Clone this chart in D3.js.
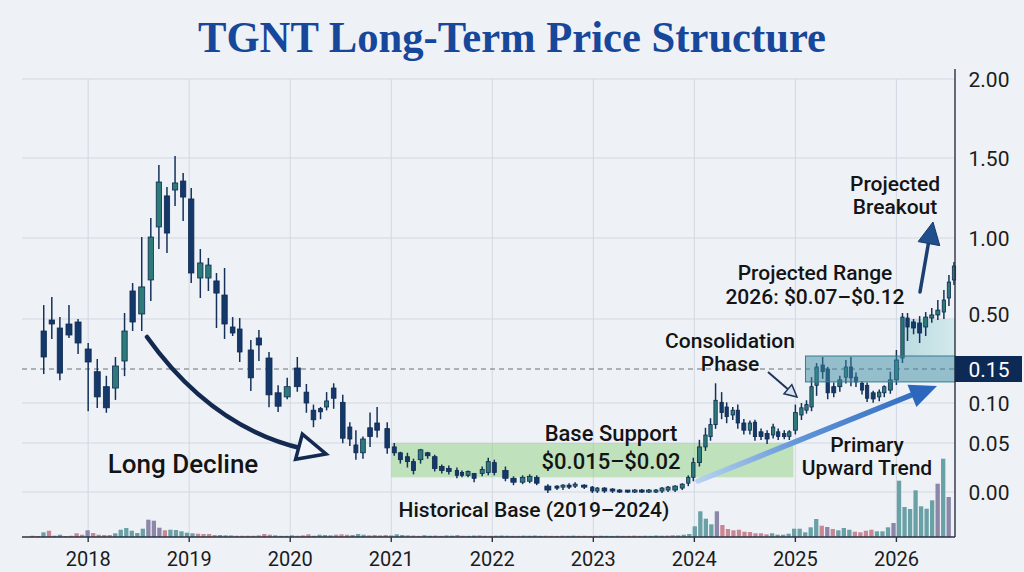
<!DOCTYPE html>
<head>
  <meta charset="utf-8">
  <title>TGNT</title>
  <script src="https://d3js.org/d3.v7.min.js"></script>
  <style>
    body { margin: 0; background: #eef2f7; }
    svg { display: block; }
    .grid line { stroke: #d2d8e1; stroke-width: 1; }
    .note { font-family: Roboto, "Noto Sans", sans-serif; fill: #141414; font-weight: 500; }
    .ylab { font-family: Roboto, "Noto Sans", sans-serif; font-size: 21px; fill: #1c1c1c; }
    .xlab { font-family: Roboto, "Noto Sans", sans-serif; font-size: 20px; fill: #1c1c1c; }
  </style>
</head>

<body>
  <script>
    var width = 1024, height = 572;
    var plot = {left: 22, right: 955, top: 79, base: 537};

    // monthly-ish candles: [time, open, high, low, close]
    var candles2017 = [
      [2017.56,.416,.586,.144,.234],[2017.64,.493,.636,.367,.465],[2017.72,.437,.512,.135,.144],
      [2017.81,.465,.586,.374,.388],[2017.90,.479,.500,.262,.332],[2018.00,.290,.332,.091,.199],
      [2018.09,.146,.220,.095,.109],[2018.18,.124,.140,.089,.094],[2018.27,.122,.234,.106,.171],
      [2018.36,.206,.537,.141,.416],[2018.44,.673,.722,.423,.479],[2018.53,.531,1.006,.423,.698],
      [2018.62,.741,1.125,.617,1.006],[2018.70,1.069,1.456,.938,1.350],[2018.78,1.263,1.319,.914,1.031],
      [2018.86,1.300,1.513,1.206,1.344],[2018.94,1.356,1.406,1.113,1.256],[2019.02,1.244,1.313,.728,.784],
      [2019.11,.753,.932,.636,.846],[2019.19,.753,.877,.679,.833],[2019.27,.735,.784,.444,.660],
      [2019.35,.648,.815,.367,.465],[2019.43,.444,.512,.388,.402],[2019.50,.430,.506,.206,.269],
      [2019.61,.283,.353,.119,.137],[2019.69,.367,.423,.213,.318],[2019.79,.227,.269,.096,.112],
      [2019.88,.115,.126,.090,.096],[2019.97,.109,.137,.107,.124],[2020.07,.157,.234,.118,.124],
      [2020.16,.116,.128,.089,.100],[2020.23,.091,.098,.071,.079],[2020.30,.093,.095,.081,.089],
      [2020.36,.095,.116,.092,.103],[2020.43,.122,.129,.094,.107],[2020.52,.101,.112,.051,.056],
      [2020.59,.070,.076,.048,.055],[2020.65,.048,.066,.034,.040],[2020.72,.040,.058,.035,.055],
      [2020.79,.069,.088,.047,.058],[2020.86,.075,.095,.058,.066],[2020.96,.068,.076,.040,.045]
    ];
    var candles2021 = [
      [2021.03,.046,.050,.038,.040],[2021.09,.040,.041,.030,.033],[2021.16,.036,.040,.026,.031],
      [2021.22,.031,.034,.019,.022],[2021.29,.033,.044,.030,.043],[2021.36,.040,.041,.035,.037],
      [2021.43,.036,.038,.022,.024],[2021.50,.026,.028,.020,.022],[2021.57,.024,.027,.019,.021],
      [2021.65,.022,.025,.015,.017],[2021.70,.020,.022,.016,.017],[2021.76,.017,.022,.016,.021],
      [2021.82,.019,.019,.011,.014],[2021.90,.019,.026,.017,.023],[2021.96,.020,.035,.018,.031],
      [2022.02,.030,.033,.018,.020],[2022.13,.022,.026,.012,.014],[2022.21,.014,.016,.008,.010],
      [2022.30,.010,.017,.009,.015],[2022.37,.011,.018,.010,.016],[2022.44,.015,.017,.008,.009],
      [2022.55,.006,.008,.000,.002],[2022.64,.006,.007,.003,.005],[2022.70,.005,.008,.003,.007],
      [2022.76,.007,.009,.004,.005],[2022.82,.006,.010,.005,.008],[2022.91,.007,.008,.004,.005],
      [2022.99,.005,.006,.000,.001],[2023.04,.001,.005,.000,.004],[2023.11,.004,.005,.000,.001],
      [2023.19,.003,.004,.000,.001],[2023.26,.002,.003,.000,.000],[2023.34,.002,.002,.000,.000],
      [2023.41,.000,.003,.000,.002],[2023.48,.002,.003,.000,.000],[2023.55,.000,.003,.000,.002],
      [2023.62,.000,.003,.000,.002],[2023.68,.001,.005,.000,.004],[2023.74,.002,.006,.001,.005],
      [2023.81,.002,.007,.001,.006],[2023.88,.004,.009,.003,.008],[2023.94,.009,.017,.007,.015]
    ];
    var candles2024 = [
      [2023.99,.015,.035,.012,.030],[2024.05,.030,.054,.027,.046],[2024.11,.046,.069,.043,.060],
      [2024.16,.058,.081,.054,.073],[2024.21,.073,.129,.069,.104],[2024.27,.101,.116,.081,.088],
      [2024.32,.095,.101,.076,.083],[2024.38,.085,.095,.080,.091],[2024.43,.091,.098,.069,.075],
      [2024.49,.075,.080,.062,.066],[2024.55,.066,.078,.062,.075],[2024.60,.076,.079,.054,.058],
      [2024.66,.064,.068,.055,.058],[2024.72,.062,.066,.050,.055],[2024.78,.060,.074,.057,.070],
      [2024.83,.064,.068,.055,.058],[2024.89,.062,.066,.056,.058],[2024.94,.058,.066,.055,.064],
      [2025.00,.066,.098,.062,.088],[2025.06,.085,.100,.080,.094],[2025.11,.091,.104,.088,.098],
      [2025.16,.095,.138,.091,.124],[2025.21,.126,.192,.112,.164],[2025.27,.178,.234,.137,.146],
      [2025.32,.150,.165,.107,.115],[2025.38,.124,.130,.110,.115],[2025.44,.124,.140,.118,.134],
      [2025.50,.138,.213,.130,.164],[2025.55,.164,.234,.126,.137],[2025.60,.138,.145,.125,.131],
      [2025.66,.129,.132,.114,.119],[2025.71,.126,.130,.103,.107],[2025.77,.115,.118,.102,.106],
      [2025.83,.109,.120,.104,.116],[2025.88,.115,.126,.110,.124],[2025.94,.119,.146,.115,.134],
      [2026.00,.134,.283,.128,.213],[2026.06,.227,.537,.199,.512],[2026.11,.506,.537,.353,.444],
      [2026.17,.479,.500,.400,.437],[2026.23,.472,.518,.339,.402],[2026.29,.444,.543,.388,.512],
      [2026.35,.506,.568,.480,.525],[2026.41,.525,.617,.500,.555],[2026.47,.543,.679,.506,.617],
      [2026.52,.630,.772,.586,.728],[2026.57,.741,.852,.716,.827]
    ];

    // volume (millions), evenly spaced periods; tone: t = teal, p = rose, v = violet
    var volStart = 2017.415, volEnd = 2026.551;
    var volume = [
      1.3,1,4.7,6.3,1.3,2.3,1,1.3,3.7,2.3, 6.7,4,2.3,2,2,3.7,7.3,9,6.3,4,
      8.3,17.3,16.3,9.3,6.7,7.3,7,5.7,4.3,3.7, 3.3,3,3,2,2,1.7,1.7,1.3,1.3,1.3,
      1.3,1.7,3,2.3,1.7,1.2,1.2,1.7,1.3,1.7, 2.7,1.3,2.3,2,1.7,2.3,2.7,2.3,2,3,
      2.3,1.7,2,1.7,2,1.7,2.7,2,1.7,
      1.5,1.2,1.8,1.3,1.5,1.2,1.6,1.4,2,1.3, 1.2,1.5,1.7,1.3,1.2,1.4,1.5,1.3,1.2,1.2,
      1.4,1.3,1.5,1.2,1.3,1.2,1.1,1.3,1.2,1.4, 1.2,1.3,1.1,1.2,1.3,1.2,1.1,1.3,1.2,1.2,
      1.4,1.2,1.3,1.2,1.5,1.3,1.4,1.8,1.6,2.3, 3,
      10.7,25.7,18.3,12.7,25.7,12,8,6.7,7.3,5.3, 5,3.7,3.7,2.7,3.7,2.3,2.3,3.3,8.3,8.3,
      4.7,9.7,18,11.3,10,8,6.7,9,7.3,5.3, 4.7,6.3,7.3,5.7,5.7,9.7,14,56.3,30,28,
      46.7,30.7,28.3,36.7,53.3,78.3,40
    ];
    var volumeTone = ("pptpttpppp" + "vppppttttt" + "tvvvpttttt" + "ppppttpppp" + "ppppttttpp" +
      "pttttppptt" + "tpppppttp" + "ppttppttpp" + "ttppppttpp" + "ttttpppptt" + "ppppttttpp" +
      "ppttttpptt" + "t" + "ttttvppppp" + "pppptttttt" + "tttpvptttp" + "ppptttvttt" + "ttttvtv").split("");

    var priceTicks = [0, 0.05, 0.10, 0.15, 0.50, 1.00, 1.50, 2.00];
    var yearTicks = [2018, 2019, 2020, 2021, 2022, 2023, 2024, 2025, 2026];
    var baseSupport = [0.015, 0.05], baseYears = [2021, 2024.98];
    var consolidation = [0.131, 0.241], consolidationStart = 2025.1;
    var projected = [0.241, 0.50], projectedStart = 2026.05;

    var svg = d3.select("body").append("svg")
      .attr("width", width)
      .attr("height", height);

    svg.append("rect").attr("width", width).attr("height", height).attr("fill", "#eef2f7");

    var x = d3.scaleLinear().domain([2017.345, 2026.58]).range([plot.left, plot.right]);
    // the price axis is stretched piecewise, like the picture
    var y = d3.scaleLinear()
      .domain(priceTicks)
      .range([492, 443, 403, 369, 319, 238, 158, 79]);
    var v = d3.scaleLinear().domain([0, 80]).range([plot.base, plot.base - 80]);
    var vx = d3.scaleBand().domain(d3.range(volume.length))
      .range([x(volStart), x(volEnd)]).padding(0.22);

    var defs = svg.append("defs");
    var trendGrad = defs.append("linearGradient").attr("id", "trend")
      .attr("gradientUnits", "userSpaceOnUse")
      .attr("x1", 698).attr("y1", 481).attr("x2", 936).attr("y2", 385);
    trendGrad.append("stop").attr("offset", "0%").attr("stop-color", "#b7d2f0");
    trendGrad.append("stop").attr("offset", "45%").attr("stop-color", "#5d92d6");
    trendGrad.append("stop").attr("offset", "100%").attr("stop-color", "#2c67bd");
    var projGrad = defs.append("linearGradient").attr("id", "proj")
      .attr("x1", 0).attr("y1", 0).attr("x2", 1).attr("y2", 0);
    projGrad.append("stop").attr("offset", "0%").attr("stop-color", "#a9d3d8").attr("stop-opacity", 0.75);
    projGrad.append("stop").attr("offset", "100%").attr("stop-color", "#c7e5e8").attr("stop-opacity", 0.7);

    // title
    svg.append("text")
      .attr("x", 512).attr("y", 52)
      .attr("text-anchor", "middle")
      .attr("textLength", 628).attr("lengthAdjust", "spacingAndGlyphs")
      .style("font-family", "'Liberation Serif', 'DejaVu Serif', serif")
      .style("font-weight", "bold")
      .style("font-size", "44px")
      .style("fill", "#17479a")
      .text("TGNT Long-Term Price Structure");

    // grid
    var grid = svg.append("g").attr("class", "grid");
    grid.selectAll(".h").data(priceTicks.filter(d => d !== 0.15)).enter().append("line")
      .attr("x1", plot.left).attr("x2", plot.right)
      .attr("y1", d => y(d)).attr("y2", d => y(d));
    grid.selectAll(".v").data(yearTicks).enter().append("line")
      .attr("x1", d => x(d)).attr("x2", d => x(d))
      .attr("y1", plot.top).attr("y2", plot.base);

    // zones
    svg.append("rect")
      .attr("x", x(baseYears[0])).attr("width", x(baseYears[1]) - x(baseYears[0]))
      .attr("y", y(baseSupport[1])).attr("height", y(baseSupport[0]) - y(baseSupport[1]))
      .attr("fill", "#8fd07f").attr("fill-opacity", 0.5);
    svg.append("rect")
      .attr("x", x(projectedStart)).attr("width", plot.right - x(projectedStart))
      .attr("y", y(projected[1])).attr("height", y(projected[0]) - y(projected[1]))
      .attr("fill", "url(#proj)");

    // dashed 0.15 level
    svg.append("line")
      .attr("x1", plot.left).attr("x2", plot.right)
      .attr("y1", y(0.15)).attr("y2", y(0.15))
      .attr("stroke", "#6b717a").attr("stroke-width", 1.2).attr("stroke-dasharray", "5,4");

    // volume
    var toneColour = {t: "#6aa1a6", p: "#c98793", v: "#8c86a8"};
    svg.append("g").selectAll("rect").data(volume).enter().append("rect")
      .attr("x", (d, i) => vx(i))
      .attr("width", vx.bandwidth())
      .attr("y", d => v(d))
      .attr("height", d => v(0) - v(d))
      .attr("fill", (d, i) => toneColour[volumeTone[i]]);

    // candles
    var candles = candles2017.concat(candles2021, candles2024);
    var gaps = candles.map((d, i) => {
      var prev = i > 0 ? x(d[0]) - x(candles[i - 1][0]) : 99;
      var next = i < candles.length - 1 ? x(candles[i + 1][0]) - x(d[0]) : 99;
      return Math.min(prev, next);
    });
    var cg = svg.append("g").selectAll("g").data(candles).enter().append("g");
    cg.append("line")
      .attr("x1", d => x(d[0])).attr("x2", d => x(d[0]))
      .attr("y1", d => y(d[2])).attr("y2", d => y(d[3]) + 1)
      .attr("stroke", "#15315a").attr("stroke-width", 1.5);
    cg.append("rect")
      .attr("x", (d, i) => x(d[0]) - gaps[i] * 0.33)
      .attr("width", (d, i) => gaps[i] * 0.66)
      .attr("y", d => y(Math.max(d[1], d[4])))
      .attr("height", d => Math.max(2, Math.abs(y(d[1]) - y(d[4]))))
      .attr("fill", d => d[4] >= d[1] ? "#2c7b79" : "#15386a")
      .attr("stroke", "#0f2a50").attr("stroke-width", 0.8);

    // consolidation box over candles
    svg.append("rect")
      .attr("x", x(consolidationStart)).attr("width", plot.right - x(consolidationStart))
      .attr("y", y(consolidation[1])).attr("height", y(consolidation[0]) - y(consolidation[1]))
      .attr("fill", "#3a8aa0").attr("fill-opacity", 0.5)
      .attr("stroke", "#357d91").attr("stroke-width", 1);

    // axes lines
    svg.append("line")
      .attr("x1", plot.left).attr("x2", plot.right)
      .attr("y1", plot.base).attr("y2", plot.base)
      .attr("stroke", "#2a3140").attr("stroke-width", 1.6);
    svg.append("line")
      .attr("x1", plot.right).attr("x2", plot.right)
      .attr("y1", plot.top - 10).attr("y2", plot.base)
      .attr("stroke", "#2a3140").attr("stroke-width", 1.4);
    svg.selectAll(".xt").data(yearTicks).enter().append("line")
      .attr("x1", d => x(d)).attr("x2", d => x(d))
      .attr("y1", plot.base).attr("y2", plot.base + 5)
      .attr("stroke", "#2a3140").attr("stroke-width", 1.4);

    svg.selectAll(".xlab").data(yearTicks).enter().append("text")
      .attr("class", "xlab")
      .attr("x", d => x(d)).attr("y", 566)
      .attr("text-anchor", "middle")
      .text(d => d);

    svg.selectAll(".ylab").data(priceTicks.filter(d => d !== 0.15)).enter().append("text")
      .attr("class", "ylab")
      .attr("x", 989).attr("y", d => y(d) + (d === 0.5 ? -5 : 0))
      .attr("dy", "0.36em")
      .attr("text-anchor", "middle")
      .text(d => d3.format(".2f")(d));

    svg.append("rect")
      .attr("x", plot.right).attr("y", y(0.15) - 13)
      .attr("width", 67).attr("height", 26)
      .attr("fill", "#0c2a55");
    svg.append("text")
      .attr("class", "ylab")
      .attr("x", 989).attr("y", y(0.15)).attr("dy", "0.36em")
      .attr("text-anchor", "middle")
      .style("fill", "#ffffff")
      .text("0.15");

    // annotations
    function note(lines, cx, y0, size, gap) {
      var t = svg.append("text").attr("class", "note")
        .attr("text-anchor", "middle").style("font-size", size + "px");
      lines.forEach((l, i) => t.append("tspan").attr("x", cx).attr("y", y0 + i * gap).text(l));
    }
    function head(tip, from, len, half, fill, stroke, sw) {
      var dx = tip[0] - from[0], dy = tip[1] - from[1], n = Math.hypot(dx, dy);
      var ux = dx / n, uy = dy / n, bx = tip[0] - ux * len, by = tip[1] - uy * len;
      svg.append("polygon")
        .attr("points", [tip, [bx - uy * half, by + ux * half], [bx + uy * half, by - ux * half]].join(" "))
        .attr("fill", fill).attr("stroke", stroke).attr("stroke-width", sw)
        .attr("stroke-linejoin", "miter");
    }

    // long decline
    svg.append("path")
      .attr("d", "M147,337 Q212,428 304,449")
      .attr("fill", "none").attr("stroke", "#13294f").attr("stroke-width", 4.5)
      .attr("stroke-linecap", "round");
    head([326, 454], [300, 447], 28, 13, "#f2f5f9", "#13294f", 3.5);
    note(["Long Decline"], 183, 473, 26, 0);

    note(["Base Support", "$0.015\u2013$0.02"], 611, 441, 22, 28);
    note(["Historical Base (2019\u20132024)"], 534, 517, 21, 0);

    // primary upward trend
    svg.append("line")
      .attr("x1", 698).attr("y1", 481).attr("x2", 914).attr("y2", 394)
      .attr("stroke", "url(#trend)").attr("stroke-width", 5.5).attr("stroke-linecap", "round");
    head([937, 386], [698, 481], 27, 12, "#2c67bd", "none", 0);
    note(["Primary", "Upward Trend"], 867, 452, 21, 23);

    // consolidation
    svg.append("line")
      .attr("x1", 768).attr("y1", 372).attr("x2", 790).attr("y2", 391)
      .attr("stroke", "#1d3558").attr("stroke-width", 2);
    head([797, 397], [768, 372], 12, 6, "#d8e3ee", "#1d3558", 1.5);
    note(["Consolidation", "Phase"], 730, 348, 21, 23);

    note(["Projected Range", "2026: $0.07\u2013$0.12"], 815, 280, 21, 24);

    // projected breakout
    svg.append("line")
      .attr("x1", 920).attr("y1", 292).attr("x2", 929).attr("y2", 240)
      .attr("stroke", "#1c3f72").attr("stroke-width", 3.5).attr("stroke-linecap", "round");
    head([933, 222], [920, 292], 22, 11, "#1f4f8c", "#163a68", 1);
    note(["Projected", "Breakout"], 895, 191, 21, 23);
  </script>
</body>
